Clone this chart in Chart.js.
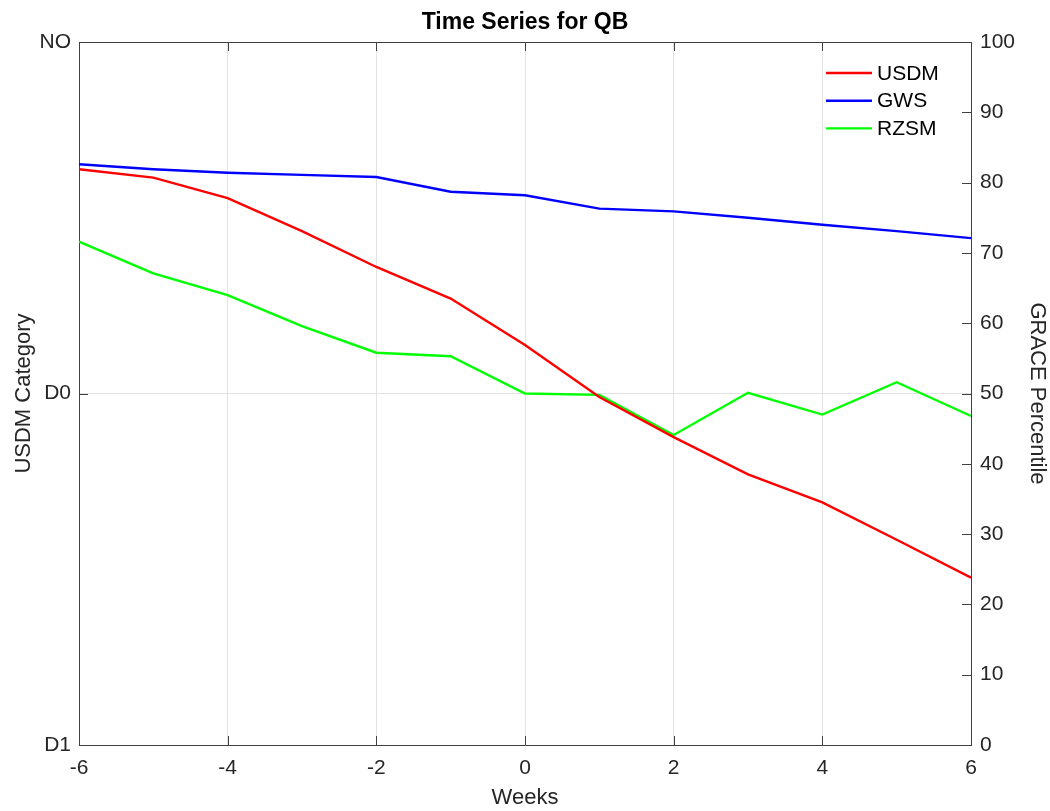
<!DOCTYPE html>
<html>
<head>
<meta charset="utf-8">
<title>Time Series for QB</title>
<script src="https://cdn.jsdelivr.net/npm/chart.js@4/dist/chart.umd.min.js"></script>
<style>
  html, body { margin: 0; padding: 0; background: #fff; }
  #wrap { width: 1050px; height: 811px; }
</style>
</head>
<body>
<div id="wrap"><canvas id="grafico" width="1050" height="811"></canvas></div>
<script>
// Dados
const semanas = [-6, -5, -4, -3, -2, -1, 0, 1, 2, 3, 4, 5, 6];
// USDM em escala de categoria (0 = D1, 1 = D0, 2 = NO)
const usdm = [1.638, 1.614, 1.556, 1.462, 1.360, 1.270, 1.138, 0.990, 0.876, 0.770, 0.690, 0.584, 0.476];
// percentis GRACE
const gws = [82.6, 81.9, 81.4, 81.1, 80.8, 78.7, 78.2, 76.3, 75.9, 75.0, 74.0, 73.1, 72.1];
const rzsm = [71.6, 67.1, 64.0, 59.6, 55.8, 55.3, 50.0, 49.8, 44.1, 50.1, 47.0, 51.6, 46.8];

const categoriasUsdm = ['D1', 'D0', 'NO'];
const ticksSemanas = [-6, -4, -2, 0, 2, 4, 6];
const ticksPercentil = [0, 10, 20, 30, 40, 50, 60, 70, 80, 90, 100];

const corEixo = '#262626';
const corGrade = '#e3e3e3';
const fonte = '"Liberation Sans", Arial, Helvetica, sans-serif';

Chart.defaults.font.family = fonte;
Chart.defaults.color = corEixo;

function pontos(valores) {
  return semanas.map((s, i) => ({ x: s, y: valores[i] }));
}

// moldura e marcas para dentro, estilo matlab
const moldura = {
  id: 'moldura',
  beforeDatasetsDraw(chart) {
    const { ctx, chartArea: a, scales } = chart;
    const tam = 9;
    const r = v => Math.round(v) + 0.5;
    ctx.save();
    ctx.strokeStyle = '#404040';
    ctx.lineWidth = 1;
    ctx.beginPath();
    ctx.moveTo(r(a.left), r(a.top));
    ctx.lineTo(r(a.right), r(a.top));
    scales.x.ticks.forEach(t => {
      const px = r(scales.x.getPixelForValue(t.value));
      ctx.moveTo(px, a.bottom); ctx.lineTo(px, a.bottom - tam);
      ctx.moveTo(px, a.top); ctx.lineTo(px, a.top + tam);
    });
    scales.yPct.ticks.forEach(t => {
      const py = r(scales.yPct.getPixelForValue(t.value));
      ctx.moveTo(a.right, py); ctx.lineTo(a.right - tam, py);
    });
    scales.yCat.ticks.forEach(t => {
      const py = r(scales.yCat.getPixelForValue(t.value));
      ctx.moveTo(a.left, py); ctx.lineTo(a.left + tam, py);
    });
    ctx.stroke();
    ctx.restore();
  }
};

// legenda dentro da area, canto superior direito
const legendaInterna = {
  id: 'legendaInterna',
  afterDatasetsDraw(chart) {
    const { ctx, chartArea: a } = chart;
    ctx.save();
    ctx.font = '21px ' + fonte;
    ctx.textBaseline = 'middle';
    ctx.fillStyle = '#000';
    chart.data.datasets.forEach((d, i) => {
      const y = a.top + 31 + i * 27.7;
      ctx.strokeStyle = d.borderColor;
      ctx.lineWidth = 2.4;
      ctx.beginPath();
      ctx.moveTo(a.right - 145, y);
      ctx.lineTo(a.right - 99, y);
      ctx.stroke();
      ctx.fillText(d.label, a.right - 94, y + 1);
    });
    ctx.restore();
  }
};

const ctx = document.getElementById('grafico').getContext('2d');
new Chart(ctx, {
  type: 'line',
  data: {
    datasets: [
      { label: 'USDM', data: pontos(usdm), borderColor: '#ff0000', yAxisID: 'yCat' },
      { label: 'GWS', data: pontos(gws), borderColor: '#0000ff', yAxisID: 'yPct' },
      { label: 'RZSM', data: pontos(rzsm), borderColor: '#00ff00', yAxisID: 'yPct' }
    ]
  },
  options: {
    responsive: false,
    animation: false,
    elements: {
      point: { radius: 0 },
      line: { borderWidth: 2.4, tension: 0, fill: false }
    },
    layout: { padding: 0 },
    plugins: {
      legend: { display: false },
      tooltip: { enabled: false },
      title: {
        display: true,
        text: 'Time Series for QB',
        color: '#000',
        font: { size: 23, weight: 'bold' },
        padding: { top: 9, bottom: 5.4 }
      }
    },
    scales: {
      x: {
        type: 'linear',
        min: -6,
        max: 6,
        afterBuildTicks: s => { s.ticks = ticksSemanas.map(v => ({ value: v })); },
        ticks: { font: { size: 21 }, padding: 11, color: corEixo },
        grid: { color: corGrade, drawTicks: false },
        border: { color: '#404040' },
        title: { display: true, text: 'Weeks', font: { size: 22 }, color: corEixo, padding: { top: 0, bottom: 0 } },
        afterFit: s => { s.height = 66; }
      },
      yCat: {
        position: 'left',
        min: 0,
        max: 2,
        afterBuildTicks: s => { s.ticks = categoriasUsdm.map((c, i) => ({ value: i })); },
        ticks: { font: { size: 21 }, padding: 8, color: corEixo, callback: v => categoriasUsdm[v] },
        grid: { color: corGrade, drawTicks: false },
        border: { color: '#404040' },
        title: { display: true, text: 'USDM Category', font: { size: 22 }, color: corEixo, padding: { top: 11, bottom: 0 } },
        afterFit: s => { s.width = 79; }
      },
      yPct: {
        position: 'right',
        min: 0,
        max: 100,
        afterBuildTicks: s => { s.ticks = ticksPercentil.map(v => ({ value: v })); },
        ticks: { font: { size: 21 }, padding: 9, color: corEixo },
        grid: { display: false, drawTicks: false },
        border: { color: '#404040' },
        title: { display: true, text: 'GRACE Percentile', font: { size: 22 }, color: corEixo, padding: { top: 0, bottom: 0 } },
        afterFit: s => { s.width = 79; }
      }
    }
  },
  plugins: [moldura, legendaInterna]
});
</script>
</body>
</html>
